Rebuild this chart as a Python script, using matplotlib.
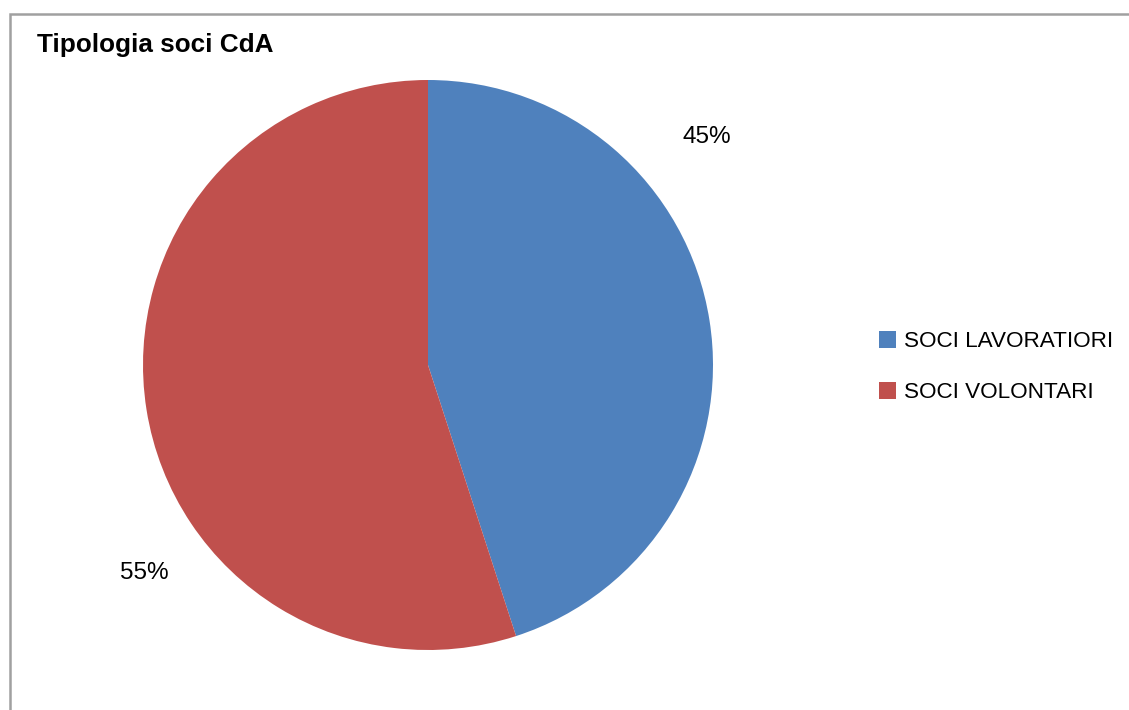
import matplotlib
matplotlib.use('Agg')
from matplotlib import pyplot as plt
from matplotlib.patches import Rectangle, Patch

# Tipologia soci CdA
categorie = ['SOCI LAVORATIORI', 'SOCI VOLONTARI']
percentuali = [45, 55]
colori = ['#4F81BD', '#C0504D']

plt.rcParams['font.family'] = ['Liberation Sans', 'DejaVu Sans']

W, H = 1129, 710
fig = plt.figure(figsize=(W / 100, H / 100), dpi=100)

# cornice grigia del grafico
fig.patches.append(Rectangle((10 / W, -0.1), 1.2, (H - 14) / H + 0.1,
                             transform=fig.transFigure, fill=False,
                             edgecolor='#A0A0A0', linewidth=1.8))

fig.text(37 / W, 1 - 45 / H, 'Tipologia soci CdA', fontsize=18.8, fontweight='bold',
         va='center', ha='left')

# torta: centro (428, 365), raggio 285 px
ax = fig.add_axes([143 / W, 60 / H, 570 / W, 570 / H])
ax.pie(percentuali, colors=colori, startangle=90, counterclock=False, radius=1)
ax.set_xlim(-1, 1)
ax.set_ylim(-1, 1)
ax.set_aspect('equal')
ax.axis('off')

# etichette percentuali
pos_etichette = [(0.977, 0.800), (-0.996, -0.730)]
for p, (x, y) in zip(percentuali, pos_etichette):
    ax.text(x, y, f'{p}%', fontsize=17.5, ha='center', va='center', clip_on=False)

maniglie = [Patch(facecolor=c, edgecolor='none') for c in colori]
fig.legend(maniglie, categorie, loc='center left', bbox_to_anchor=(879 / W, 1 - 367 / H),
           frameon=False, fontsize=16.2, handlelength=0.77, handleheight=0.8,
           handletextpad=0.36, labelspacing=1.3, borderpad=0, borderaxespad=0)

fig.savefig('out.png', dpi=100)
